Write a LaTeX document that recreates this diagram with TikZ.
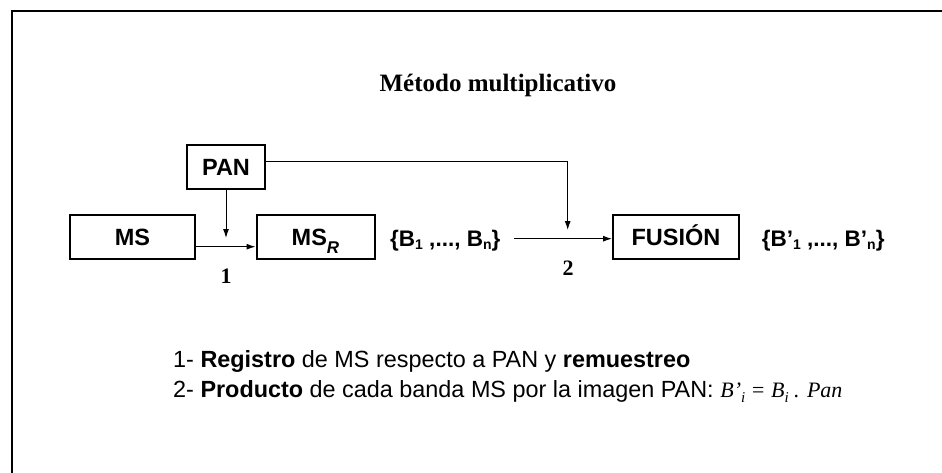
\documentclass[tikz,border=0pt]{standalone}
\usepackage{fontspec}
\setmainfont{Liberation Serif}
\setsansfont{Liberation Sans}
\usetikzlibrary{arrows.meta}
\newcommand\sbx[3]{\raisebox{#1}{\fontsize{#2}{#2}\selectfont #3}}
\begin{document}
\begin{tikzpicture}[x=1pt,y=-1pt,
  box/.style={draw,line width=2pt,minimum height=44pt,inner sep=0pt,text height=16.5pt,text depth=0pt,
              font=\sffamily\bfseries\fontsize{23.5}{27}\selectfont},
  conn/.style={line width=1pt,-{Latex[length=9pt,width=6pt]}},
  lbl/.style={inner sep=0pt,font=\rmfamily\bfseries\fontsize{22}{26}\selectfont},
  bset/.style={inner sep=0pt,anchor=base west,font=\sffamily\bfseries\fontsize{22.5}{26}\selectfont},
  txt/.style={inner sep=0pt,anchor=base west,font=\sffamily\fontsize{23.4}{27}\selectfont},
  ttl/.style={inner sep=0pt,anchor=base,font=\rmfamily\bfseries\fontsize{25}{30}\selectfont}]
\useasboundingbox (0,0) rectangle (942,472);
\draw[line width=2pt] (12,474) -- (12,11) -- (944,11);
\node[ttl] (title) at (498,91) {Método multiplicativo};
\node[box,minimum width=78pt] (pan) at (226,167) {PAN};
\node[box,minimum width=125pt] (ms) at (132.5,237) {MS};
\node[box,minimum width=118pt] (msr) at (315.5,237) {MS\sbx{-8pt}{17}{\itshape R}};
\node[box,minimum width=126pt] (fus) at (676,237) {FUSIÓN};
\node[bset] (b1) at (390,246.7) {\{B\sbx{-3pt}{14}{1} ,..., B\sbx{-3pt}{14}{n}\}};
\node[bset] (b2) at (761.7,246.7) {\{B’\sbx{-3pt}{14}{1} ,..., B’\sbx{-3pt}{14}{n}\}};
\node[lbl] (l1) at (226,276) {1};
\node[lbl] (l2) at (568,268) {2};
\coordinate (pj) at (226,238);
\coordinate (fj) at (567.7,230);
\coordinate (bs) at (514,238.7);
\draw[conn] (pan.south) -- (pj);
\draw[conn] ([yshift=-9.7pt]ms.east) -- ([yshift=-9.7pt]msr.west);
\draw[conn] ([yshift=6pt]pan.east) -| (fj);
\draw[conn] (bs) -- (bs -| fus.west);
\node[txt] (t1) at (173,367) {1- \textbf{Registro} de MS respecto a PAN y \textbf{remuestreo}};
\node[txt] (t2) at (173,397.5) {2- \textbf{Producto} de cada banda MS por la imagen PAN: {\rmfamily\itshape\fontsize{22}{25}\selectfont B’\sbx{-5pt}{15}{i} = B\sbx{-5pt}{15}{i} . Pan}};
\end{tikzpicture}
\end{document}
